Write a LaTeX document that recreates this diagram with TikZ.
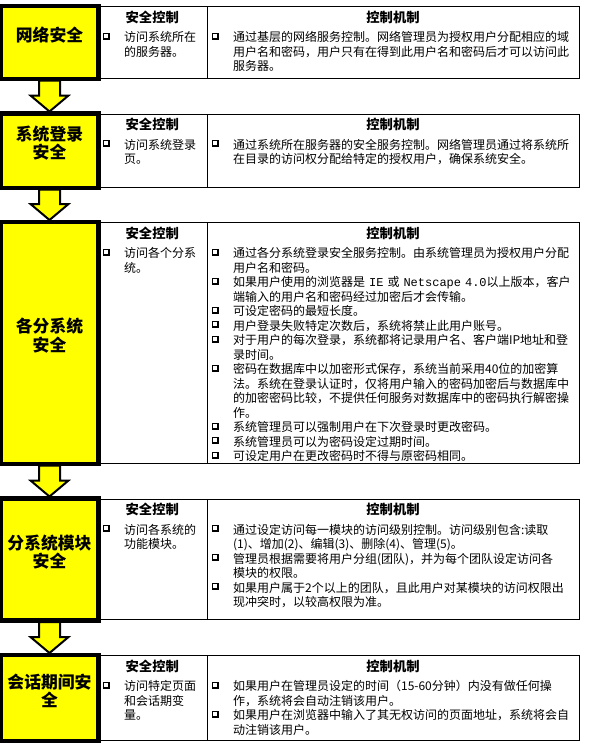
\documentclass[tikz,border=0pt]{standalone}
\usepackage{fontspec}
\setmainfont{Noto Sans CJK SC}
\newfontfamily\monof{Liberation Mono}
\usetikzlibrary{calc,fit}
\definecolor{yel}{RGB}{255,255,0}
\newlength{\itmind}\setlength{\itmind}{16pt}
\newcommand{\chkbox}{\tikz[baseline=0pt,x=0.75pt,y=0.75pt]{\fill[black] (0,2) rectangle (7,9); \fill[white] (1,4) rectangle (5,8);}}
\newcommand{\itm}[1]{\par\hangindent=\itmind\hangafter=1\noindent\makebox[\itmind][l]{\chkbox}\vrule height 8pt width 0pt depth 0pt#1\par}
\begin{document}
\begin{tikzpicture}[x=0.75pt,y=-0.75pt,
  ybox/.style={draw=black,fill=yel,line width=2.25pt,inner sep=0pt,align=center,
    font=\fontsize{12.6}{13.7}\selectfont\bfseries},
  cellbox/.style={draw=black,line width=0.75pt,inner sep=0pt},
  yarrow/.style={draw=black,fill=yel,line width=1.5pt,line join=miter},
  ttl/.style={anchor=base,inner sep=0pt,font=\fontsize{10}{12}\selectfont\bfseries},
  bodyl/.style={anchor=north west,inner sep=0pt,align=left,text width=76pt,
    font=\fontsize{9}{10.875}\selectfont},
  bodyr/.style={anchor=north west,inner sep=0pt,align=left,text width=272pt,
    font=\fontsize{9}{10.875}\selectfont}]
\useasboundingbox (0,0) rectangle (590,754);
\fill[white] (0,0) rectangle (590,754);

% table cells
\node[cellbox,fit={(97.5,6.5)(207,78)}] (l1) {};
\node[cellbox,fit={(207,6.5)(579,78)}] (r1) {};
\node[cellbox,fit={(97.5,114)(207,187)}] (l2) {};
\node[cellbox,fit={(207,114)(579,187)}] (r2) {};
\node[cellbox,fit={(97.5,222.5)(207,463)}] (l3) {};
\node[cellbox,fit={(207,222.5)(579,463)}] (r3) {};
\node[cellbox,fit={(97.5,499)(207,619.5)}] (l4) {};
\node[cellbox,fit={(207,499)(579,619.5)}] (r4) {};
\node[cellbox,fit={(97.5,655.5)(207,740)}] (l5) {};
\node[cellbox,fit={(207,655.5)(579,740)}] (r5) {};

% yellow boxes
\node[ybox,fit={(1.5,6.5)(97.5,78)}] (b1) {网络安全};
\node[ybox,fit={(1.5,114)(97.5,187)}] (b2) {系统登录\\安全};
\node[ybox,fit={(1.5,222.5)(97.5,463)}] (b3) {各分系统\\安全};
\node[ybox,fit={(1.5,499)(97.5,619.5)}] (b4) {分系统模块\\安全};
\node[ybox,fit={(1.5,655.5)(97.5,740)}] (b5) {会话期间安\\全};

% arrows
\foreach \a/\b in {b1/b2,b2/b3,b3/b4,b4/b5}{
  \draw[yarrow] ($(\a.south)+(-10.5,1)$) -- ($(\b.north)+(-10.5,-17)$) -- ($(\b.north)+(-19,-17)$)
    -- ($(\b.north)+(0,-1)$) -- ($(\b.north)+(19,-17)$) -- ($(\b.north)+(10.5,-17)$)
    -- ($(\a.south)+(10.5,1)$) -- cycle;
}
% redraw box borders over arrow ends
\foreach \n in {b1,b2,b3,b4,b5}{
  \draw[line width=2.25pt] (\n.north west) rectangle (\n.south east);
}

% titles
\foreach \n in {l1,l2,l3,l4,l5}{\node[ttl] (t\n) at ($(\n.north)+(0,16)$) {安全控制};}
\foreach \n in {r1,r2,r3,r4,r5}{\node[ttl] (t\n) at ($(\n.north)+(0,16)$) {控制机制};}

% bodies
\node[bodyl] (x1) at ($(l1.north west)+(5.5,21)$) {\itm{访问系统所在\newline 的服务器。}};
\node[bodyr] (y1) at ($(r1.north west)+(5,21)$) {\itm{通过基层的网络服务控制。网络管理员为授权用户分配相应的域\newline 用户名和密码，用户只有在得到此用户名和密码后才可以访问此\newline 服务器。}};

\node[bodyl] (x2) at ($(l2.north west)+(5.5,21)$) {\itm{访问系统登录\newline 页。}};
\node[bodyr] (y2) at ($(r2.north west)+(5,21)$) {\itm{通过系统所在服务器的安全服务控制。网络管理员通过将系统所\newline 在目录的访问权分配给特定的授权用户，确保系统安全。}};

\node[bodyl] (x3) at ($(l3.north west)+(5.5,21)$) {\itm{访问各个分系\newline 统。}};
\node[bodyr] (y3) at ($(r3.north west)+(5,21)$) {%
\itm{通过各分系统登录安全服务控制。由系统管理员为授权用户分配\newline 用户名和密码。}
\itm{如果用户使用的浏览器是 {\monof IE} 或 {\monof Netscape 4.0}以上版本，客户\newline 端输入的用户名和密码经过加密后才会传输。}
\itm{可设定密码的最短长度。}
\itm{用户登录失败特定次数后，系统将禁止此用户账号。}
\itm{对于用户的每次登录，系统都将记录用户名、客户端IP地址和登\newline 录时间。}
\itm{密码在数据库中以加密形式保存，系统当前采用40位的加密算\newline 法。系统在登录认证时，仅将用户输入的密码加密后与数据库中\newline 的加密密码比较，不提供任何服务对数据库中的密码执行解密操\newline 作。}
\itm{系统管理员可以强制用户在下次登录时更改密码。}
\itm{系统管理员可以为密码设定过期时间。}
\itm{可设定用户在更改密码时不得与原密码相同。}};

\node[bodyl] (x4) at ($(l4.north west)+(5.5,21)$) {\itm{访问各系统的\newline 功能模块。}};
\node[bodyr] (y4) at ($(r4.north west)+(5,21)$) {%
\itm{通过设定访问每一模块的访问级别控制。访问级别包含:读取\newline (1)、增加(2)、编辑(3)、删除(4)、管理(5)。}
\itm{管理员根据需要将用户分组(团队)，并为每个团队设定访问各\newline 模块的权限。}
\itm{如果用户属于2个以上的团队，且此用户对某模块的访问权限出\newline 现冲突时，以较高权限为准。}};

\node[bodyl] (x5) at ($(l5.north west)+(5.5,21)$) {\itm{访问特定页面\newline 和会话期变\newline 量。}};
\node[bodyr] (y5) at ($(r5.north west)+(5,21)$) {%
\itm{如果用户在管理员设定的时间（15-60分钟）内没有做任何操\newline 作，系统将会自动注销该用户。}
\itm{如果用户在浏览器中输入了其无权访问的页面地址，系统将会自\newline 动注销该用户。}};
\end{tikzpicture}
\end{document}
